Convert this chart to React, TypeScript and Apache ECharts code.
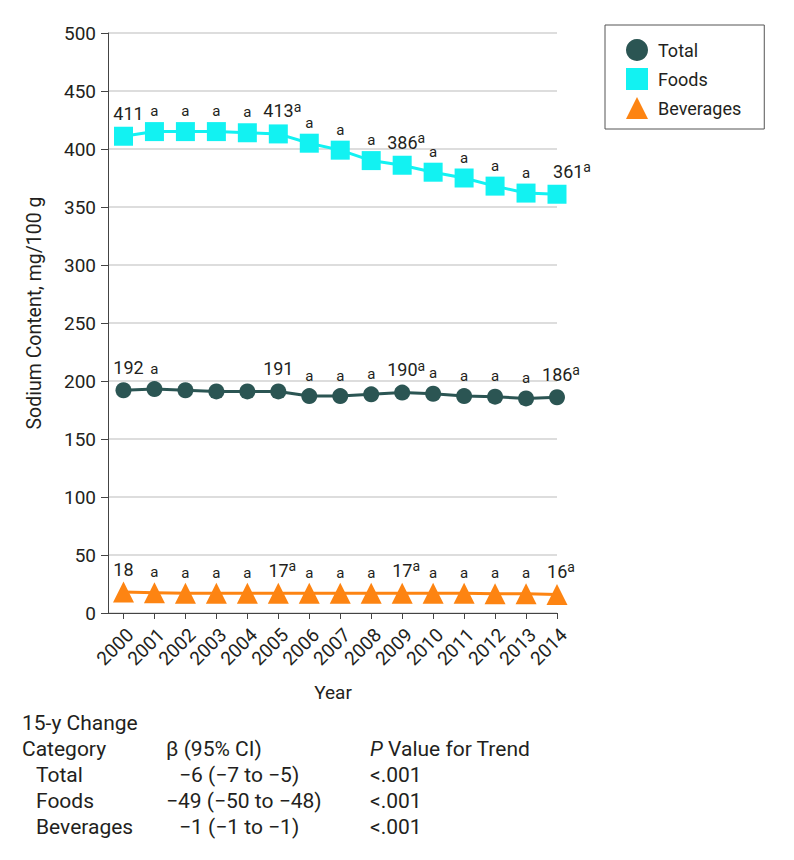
import React, { useEffect, useRef } from "react";
import * as echarts from "echarts";

const years = [2000, 2001, 2002, 2003, 2004, 2005, 2006, 2007, 2008, 2009, 2010, 2011, 2012, 2013, 2014];
const seriesNames = ["Total", "Foods", "Beverages"];
const totalValues = [192, 193, 192, 191, 191, 191, 187, 187, 188.5, 190, 189, 187, 186.5, 185, 186];
const foodsValues = [411, 415, 415, 415, 414, 413, 405, 399, 390, 386, 380, 375, 368, 362, 361];
const beverageValues = [18, 17.5, 17, 17, 17, 17, 17, 17, 17, 17, 17, 17, 16.5, 16.5, 16];
// "^a" marks a superscript footnote letter
const totalLabels = ["192", "a", "", "", "", "191", "a", "a", "a", "190^a", "a", "a", "a", "a", "186^a"];
const foodsLabels = ["411", "a", "a", "a", "a", "413^a", "a", "a", "a", "386^a", "a", "a", "a", "a", "361^a"];
const beverageLabels = ["18", "a", "a", "a", "a", "17^a", "a", "a", "a", "17^a", "a", "a", "a", "a", "16^a"];

const tableTitle = "15-y Change";
const tableHeaders = ["Category", "β (95% CI)", "P Value for Trend"];
const tableCategories = ["Total", "Foods", "Beverages"];
const tableBetas = ["−6 (−7 to −5)", "−49 (−50 to −48)", "−1 (−1 to −1)"];
const tablePValues = ["<.001", "<.001", "<.001"];

const yAxisTitle = "Sodium Content, mg/100 g";
const xAxisTitle = "Year";

const FONT = "Roboto, 'DejaVu Sans', sans-serif";
const TEXT = "#231f20";
const COLORS = ["#2b5553", "#12f2f2", "#fd8412"];

function buildLabel(text: string, i: number, lastShift: number) {
  if (!text) return { show: false };
  if (text === "a") return { show: true, formatter: "{a|a}", offset: [0, -20.5] };
  const parts = text.split("^");
  const num = parts[0];
  const sup = parts[1];
  let dx = sup ? 4 : 0;
  if (i === 0 && num.length >= 3) dx = 5;
  if (i === years.length - 1) dx += lastShift;
  return {
    show: true,
    formatter: sup ? `{n|${num}}{s|${sup}}` : `{n|${num}}`,
    offset: [dx, -23],
  };
}

function buildData(values: number[], labels: string[], lastShift: number) {
  return values.map((v, i) => ({
    value: [years[i], v],
    label: buildLabel(labels[i], i, lastShift),
  }));
}

const richStyles = {
  n: { fontSize: 18, lineHeight: 22, color: TEXT, fontFamily: FONT },
  s: { fontSize: 14, lineHeight: 12, verticalAlign: "top", color: TEXT, fontFamily: FONT },
  a: { fontSize: 15, color: TEXT, fontFamily: FONT },
};

export default function App() {
  const ref = useRef<HTMLDivElement>(null);

  useEffect(() => {
    document.body.style.margin = "0";
    if (!ref.current) return;
    const chart = echarts.init(ref.current, undefined, { renderer: "svg" });

    const mkSeries = (name: string, values: number[], labels: string[], symbol: string, size: any, color: string, lastShift: number) => ({
      name,
      type: "line",
      data: buildData(values, labels, lastShift),
      symbol,
      symbolSize: size,
      lineStyle: { color, width: 3 },
      itemStyle: { color },
      label: { position: "inside", rich: richStyles, color: TEXT },
      z: 3,
    });

    const tableGraphics: any[] = [];
    const rowY = [723, 749, 775, 801, 827];
    const tStyle = { fontSize: 21, fontFamily: FONT, fill: TEXT, verticalAlign: "middle" };
    tableGraphics.push({ type: "text", x: 22, y: rowY[0], style: { ...tStyle, text: tableTitle } });
    tableGraphics.push({ type: "text", x: 22, y: rowY[1], style: { ...tStyle, text: tableHeaders[0] } });
    tableGraphics.push({ type: "text", x: 166, y: rowY[1], style: { ...tStyle, text: tableHeaders[1] } });
    tableGraphics.push({
      type: "text",
      x: 370,
      y: rowY[1],
      style: {
        ...tStyle,
        text: "{i|P}" + tableHeaders[2].slice(1),
        rich: { i: { fontStyle: "italic", fontSize: 21, fontFamily: FONT, fill: TEXT } },
      },
    });
    const betaX = [179, 166, 179];
    tableCategories.forEach((c, k) => {
      tableGraphics.push({ type: "text", x: 36, y: rowY[k + 2], style: { ...tStyle, text: c } });
      tableGraphics.push({ type: "text", x: betaX[k], y: rowY[k + 2], style: { ...tStyle, text: tableBetas[k] } });
      tableGraphics.push({ type: "text", x: 370, y: rowY[k + 2], style: { ...tStyle, text: tablePValues[k] } });
    });

    chart.setOption({
      animation: false,
      backgroundColor: "#ffffff",
      textStyle: { fontFamily: FONT, color: TEXT },
      grid: { left: 108, right: 237, top: 33, bottom: 247, containLabel: false },
      legend: {
        orient: "vertical",
        left: 605,
        top: 25,
        padding: [14, 23, 10, 21],
        itemGap: 7,
        itemWidth: 22,
        itemHeight: 22,
        borderColor: "#555",
        borderWidth: 1,
        textStyle: { fontSize: 18, fontFamily: FONT, color: TEXT, padding: [0, 0, 0, 5] },
        data: [
          { name: seriesNames[0], icon: "circle" },
          { name: seriesNames[1], icon: "rect" },
          { name: seriesNames[2], icon: "triangle" },
        ],
      },
      xAxis: {
        type: "value",
        min: 1999.5,
        max: 2014,
        axisLine: { show: true, onZero: false, lineStyle: { color: "#444", width: 1 } },
        axisTick: { show: true, customValues: years, length: 6, lineStyle: { color: "#444" } },
        axisLabel: {
          customValues: years,
          rotate: 45,
          fontSize: 19,
          margin: 12,
          verticalAlign: "top",
          color: TEXT,
          fontFamily: FONT,
          formatter: (v: number) => String(v),
        },
        splitLine: { show: false },
      },
      yAxis: {
        type: "value",
        min: 0,
        max: 500,
        interval: 50,
        axisLine: { show: true, lineStyle: { color: "#444", width: 1 } },
        axisTick: { show: true, length: 7, lineStyle: { color: "#444" } },
        axisLabel: { fontSize: 19, margin: 12, color: TEXT, fontFamily: FONT },
        splitLine: { show: true, lineStyle: { color: "#d2d2d2", width: 1.5 } },
      },
      series: [
        mkSeries(seriesNames[0], totalValues, totalLabels, "circle", 16, COLORS[0], 0),
        mkSeries(seriesNames[1], foodsValues, foodsLabels, "rect", 19, COLORS[1], 11),
        mkSeries(seriesNames[2], beverageValues, beverageLabels, "triangle", 21, COLORS[2], 0),
      ],
      graphic: [
        {
          type: "text",
          x: 34,
          y: 313,
          rotation: Math.PI / 2,
          style: { text: yAxisTitle, fontSize: 19.5, fontFamily: FONT, fill: TEXT, align: "center", verticalAlign: "middle" },
        },
        {
          type: "text",
          x: 333,
          y: 692,
          style: { text: xAxisTitle, fontSize: 19, fontFamily: FONT, fill: TEXT, align: "center", verticalAlign: "middle" },
        },
        ...tableGraphics,
      ],
    });

    return () => chart.dispose();
  }, []);

  return <div ref={ref} style={{ width: 794, height: 860 }} />;
}
